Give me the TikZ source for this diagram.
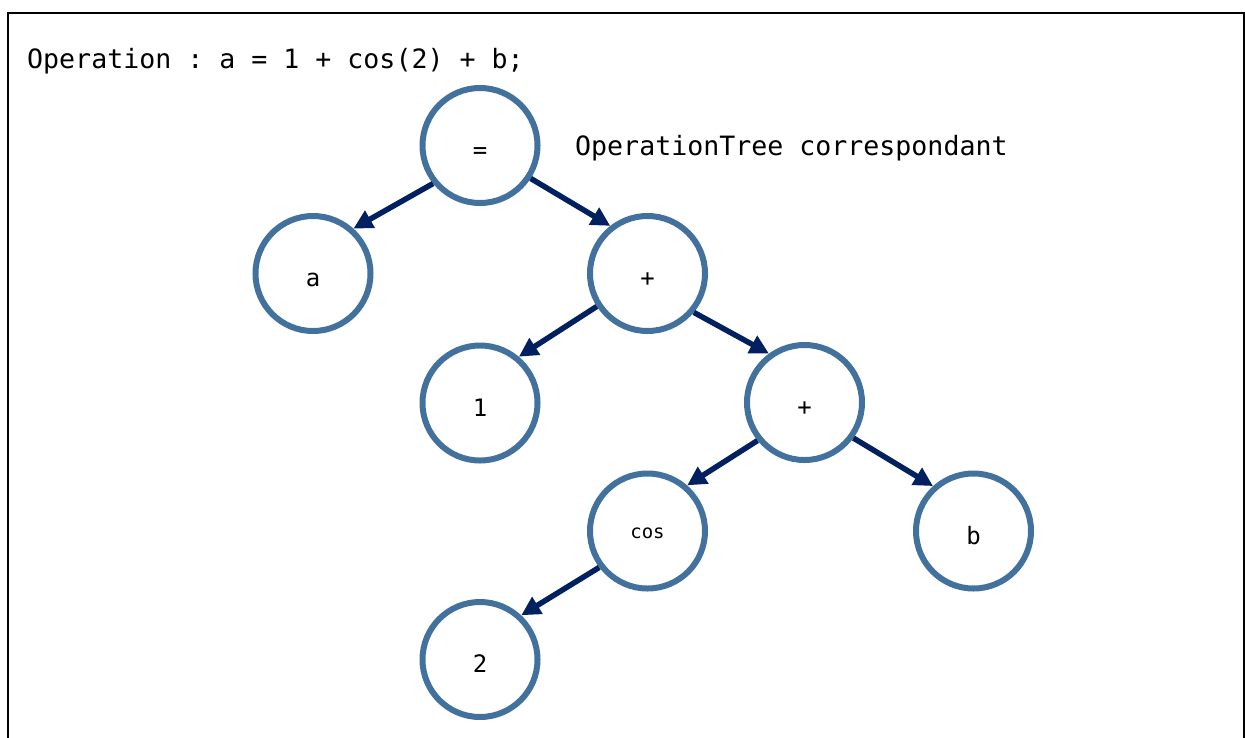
\documentclass[tikz,border=0pt]{standalone}
\usepackage{fontspec}
\setmonofont{DejaVu Sans Mono}
\usetikzlibrary{arrows.meta}
\definecolor{ringblue}{HTML}{41719C}
\definecolor{arrownavy}{HTML}{002060}
\begin{document}
\begin{tikzpicture}[x=1pt,y=-1pt,
  treenode/.style={circle,draw=ringblue,line width=6pt,minimum size=115pt,inner sep=0pt,
    font=\ttfamily\fontsize{24}{26}\selectfont,text height=26pt,text depth=0pt},
  smallnode/.style={treenode,font=\ttfamily\fontsize{19}{21}\selectfont,text height=14pt},
  link/.style={draw=arrownavy,line width=5.5pt,-{Triangle[length=19pt,width=19pt]}},
  codetext/.style={font=\ttfamily\fontsize{26.6}{30}\selectfont,inner sep=0pt}]
\useasboundingbox (0,0) rectangle (1245,737);
\begin{scope}
\clip (0,0) rectangle (1245,737);
\draw[line width=2pt,black] (8.4,745) -- (8.4,13.3) -- (1243.5,13.3) -- (1243.5,745);
\end{scope}
\node[codetext,anchor=base west] (title) at (27,68) {Operation : a = 1 + cos(2) + b;};
\node[codetext,anchor=base west] (caption) at (575,155) {OperationTree correspondant};
\node[treenode] (eq) at (480,145.5) {=};
\node[treenode] (a) at (313,273.5) {a};
\node[treenode] (p1) at (647.5,273.5) {+};
\node[treenode] (one) at (480,403) {1};
\node[treenode] (p2) at (804.5,402.5) {+};
\node[smallnode] (cos) at (647.5,531) {cos};
\node[treenode] (b) at (973.5,531) {b};
\node[treenode] (two) at (480,659.5) {2};
\draw[link] (eq.219) -- (a.48);
\draw[link] (eq.327) -- (p1.128);
\draw[link] (p1.213) -- (one.50);
\draw[link] (p1.320) -- (p2.126);
\draw[link] (p2.219) -- (cos.49);
\draw[link] (p2.324) -- (b.132);
\draw[link] (cos.217) -- (two.47);
\end{tikzpicture}
\end{document}
